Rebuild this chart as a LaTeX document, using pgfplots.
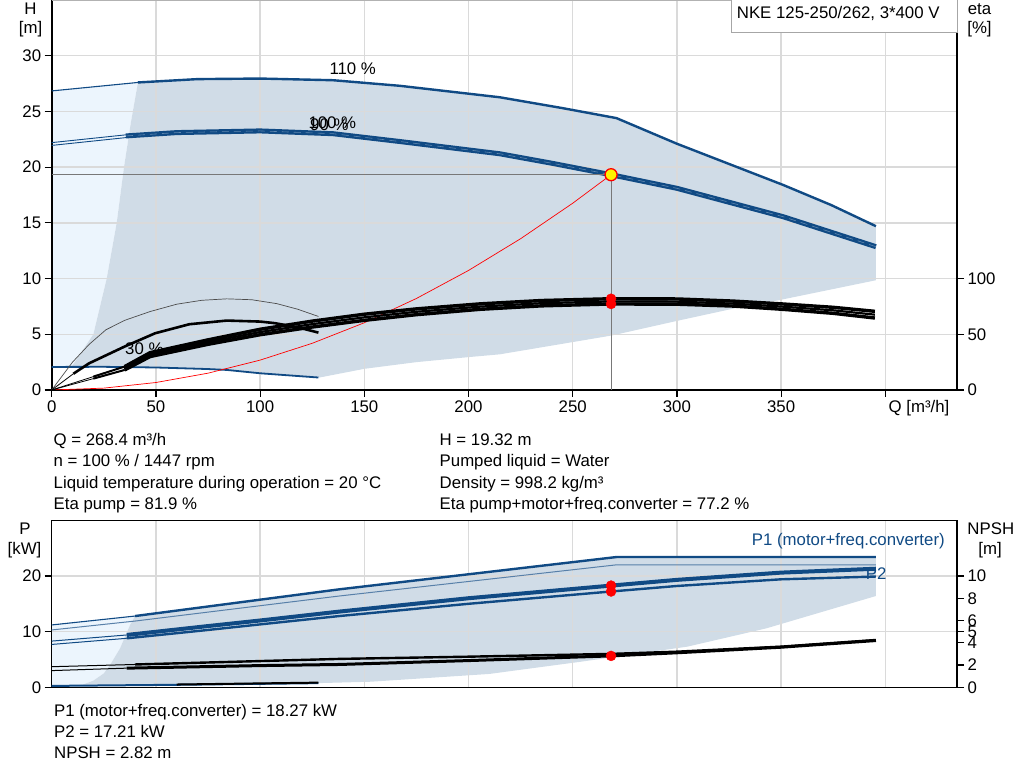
\documentclass[border=0pt]{standalone}
\usepackage{fontspec}
\setmainfont{Liberation Sans}
\usepackage{pgfplots}
\pgfplotsset{compat=1.18}
\definecolor{gblue}{RGB}{16,74,132}
\definecolor{midblue}{RGB}{95,135,175}
\definecolor{shade}{RGB}{208,220,231}
\definecolor{lightb}{RGB}{236,245,253}
\definecolor{gridc}{RGB}{218,218,218}
\definecolor{opgray}{RGB}{120,120,120}
\newcommand{\fs}{\fontsize{16.8}{19}\selectfont}
\pgfplotsset{
  common/.style={scale only axis, width=905.3pt, xmin=0, xmax=434.4,
    tick label style={font=\fs}, /pgf/number format/assume math mode=true,
    tick align=outside, major tick length=7pt, tick style={black, line width=1.2pt},
    axis line style={black, line width=1.6pt}},
  bl/.style={gblue, line width=#1, line join=round},
  bk/.style={black, line width=#1, line join=round},
}
\begin{document}
\begin{tikzpicture}
\useasboundingbox (0pt,0pt) rectangle (1024pt,781pt);
% ================= TOP: fills =================
\begin{axis}[common, at={(51.7pt,391pt)}, anchor=south west, height=390pt,
  ymin=0, ymax=35, hide axis]
\addplot[fill=lightb, draw=none] coordinates {(0,2.07) (0,26.84) (41.4,27.6) (38,24) (34.7,20) (31.2,15) (26.4,10) (20,5) (15,3.6) (9.5,2.08)} -- cycle;
\addplot[fill=shade, draw=none] coordinates {(41.4,27.6) (70,27.9) (100,27.95) (135,27.8) (167,27.3) (215,26.27) (245,25.3) (271,24.4) (300,22.1) (351,18.4) (374,16.6) (395.5,14.7)
 (395.5,9.85) (350,8.1) (327,7.3) (300,6.2) (269,4.9) (250,4.3) (215,3.2) (200,2.95) (175,2.5) (150,1.9) (128,1.1)
 (100,1.5) (84,1.8) (75,1.88) (50,2.02) (25,2.08) (9.5,2.08) (15,3.6) (20,5) (26.4,10) (31.2,15) (34.7,20) (38,24)} -- cycle;
\end{axis}
% ================= TOP: H axis =================
\begin{axis}[common, at={(51.7pt,391pt)}, anchor=south west, height=390pt,
  ymin=0, ymax=35, axis x line*=bottom, axis y line*=left,
  xtick={0,50,...,400}, xticklabels={0,50,100,150,200,250,300,350,{}},
  ytick={0,5,...,30},
  grid=major, grid style={gridc, line width=1.4pt}]
\draw[gray!60, line width=1.2pt] (rel axis cs:0,1) -- (rel axis cs:1,1);
% min speed curve
\addplot[bl=1.8pt] coordinates {(0,2.07) (25,2.08) (50,2.02) (75,1.88) (84,1.8) (100,1.5) (128,1.12)};
% 110 %
\addplot[bl=1.1pt] coordinates {(0,26.84) (41.4,27.6)};
\addplot[bl=2.4pt] coordinates {(41.4,27.6) (70,27.9) (100,27.95) (135,27.8) (167,27.3) (215,26.27) (245,25.3) (271,24.4) (300,22.1) (351,18.4) (374,16.6) (395.5,14.7)};
% 100 % / 90 %
\addplot[bl=0.9pt] coordinates {(0,22.2) (35.6,22.9)};
\addplot[bl=0.9pt] coordinates {(0,21.95) (35.6,22.65)};
\addplot[bl=5pt] coordinates {(35.6,22.8) (60,23.1) (100,23.25) (135,23.0) (167,22.3) (215,21.2) (240,20.35) (268.4,19.32) (300,18.1) (351,15.55) (395.5,12.86)};
\addplot[midblue, line width=0.6pt, dash pattern=on 7pt off 5pt] coordinates {(35.6,22.8) (60,23.1) (100,23.25) (135,23.0) (167,22.3) (215,21.2) (240,20.35) (268.4,19.32) (300,18.1) (351,15.55) (395.5,12.86)};
% system curve
\addplot[red, line width=0.7pt] coordinates {(0,0) (25,0.168) (50,0.671) (75,1.509) (100,2.682) (125,4.190) (150,6.034) (175,8.213) (200,10.728) (225,13.577) (250,16.762) (268.4,19.32)};
% operating point lines
\addplot[opgray, line width=1pt] coordinates {(0,19.32) (268.4,19.32)};
\addplot[opgray, line width=1pt] coordinates {(268.4,19.32) (268.4,0)};
\addplot[only marks, mark=*, mark size=6pt, mark options={fill=yellow, draw=red, line width=1.3pt}] coordinates {(268.4,19.32)};
\end{axis}
% ================= TOP: eta axis =================
\begin{axis}[common, at={(51.7pt,391pt)}, anchor=south west, height=390pt,
  ymin=0, ymax=350, axis y line*=right, axis x line=none, xtick=\empty,
  ytick={0,50,100}]
\addplot[bk=0.7pt, black!70] coordinates {(0,0) (10,25) (18,41) (26,54) (35,62.5) (47.2,70.4) (60,77) (72,80.5) (84,81.8) (96,81) (108,77.5) (118,72.5) (128,66)};
\addplot[bk=0.8pt] coordinates {(0,0) (10.4,14.6)};
\addplot[bk=2.6pt] coordinates {(10.4,14.6) (18,24) (26.4,31.4) (35,39) (49.6,50.9) (66,59) (84,62.3) (100,61.4) (107,60) (118,56.3) (128,51.5)};
\addplot[bk=0.8pt] coordinates {(0,0) (20,12) (35,21)};
\addplot[bk=0.8pt] coordinates {(0,0) (20,10.2) (35,18)};
\addplot[bk=2pt] coordinates {(20,12) (35,21)};
\addplot[bk=2pt] coordinates {(20,10.2) (35,18)};
\addplot[bk=3.4pt] coordinates {(35,21) (47.2,33.5) (75,45) (100,54.5) (125,61.8) (150,68) (175,72.8) (205.5,77.3) (235,80.3) (268.4,81.9) (300,81.7) (327,79.8) (350,77.3) (375,74.2) (395,70.6)};
\addplot[bk=3.4pt] coordinates {(35,18) (47.2,30) (75,41) (100,49.6) (125,56.5) (150,62.5) (175,67.6) (205.5,72.4) (235,75.5) (268.4,77.2) (300,77.0) (327,75.3) (350,72.5) (375,68.8) (395,64.6)};
\addplot[bk=2.2pt] coordinates {(35,19.5) (47.2,31.7) (75,43) (100,52) (125,59.1) (150,65.2) (175,70.2) (205.5,74.8) (235,77.9) (268.4,79.5) (300,79.3) (327,77.5) (350,74.9) (375,71.5) (395,67.6)};
\addplot[only marks, mark=*, mark size=5pt, red] coordinates {(268.4,81.9) (268.4,77.2)};
\end{axis}
% ================= BOTTOM: fills =================
\begin{axis}[common, at={(51.7pt,93.7pt)}, anchor=south west, height=167pt,
  ymin=0, ymax=30, hide axis]
\addplot[fill=lightb, draw=none] coordinates {(0,0.2) (0,11.2) (40,12.8) (37.6,11.2) (32.8,7) (28,4) (25,2.5) (20,1.2) (15,0.5) (10,0.25)} -- cycle;
\addplot[fill=shade, draw=none] coordinates {(40,12.8) (138,17.6) (271,23.4) (395.5,23.4) (395.5,16.4) (343,10.6) (305,7.3) (254,4.6) (210,2.4) (153,1.0) (128,0.75) (60,0.45) (10,0.25) (15,0.5) (20,1.2) (25,2.5) (28,4) (32.8,7) (37.6,11.2)} -- cycle;
\end{axis}
% ================= BOTTOM: P axis =================
\begin{axis}[common, at={(51.7pt,93.7pt)}, anchor=south west, height=167pt,
  ymin=0, ymax=30, ytick={0,10,20}, ytick pos=left,
  xtick={0,50,...,400}, xticklabels={}, x tick style={draw=none},
  grid=major, grid style={gridc, line width=1.4pt},
  axis line style={black, line width=1.4pt}]
\addplot[bl=1.1pt] coordinates {(0,11.2) (40,12.8)};
\addplot[bl=2.4pt] coordinates {(40,12.8) (138,17.6) (271,23.4) (395.5,23.4)};
\addplot[gblue!70, line width=1pt] coordinates {(0,10.3) (40,11.9) (138,16.4) (271,22.0) (395.5,22.0)};
\addplot[bl=1pt] coordinates {(0,8.3) (36,9.4)};
\addplot[bl=1pt] coordinates {(0,7.7) (36,8.8)};
\addplot[bl=4pt] coordinates {(36,9.4) (75,11.0) (100,12.0) (138,13.6) (200,16.0) (268.4,18.27) (300,19.3) (350,20.6) (395.5,21.3)};
\addplot[bl=2.4pt] coordinates {(36,8.8) (75,10.3) (100,11.3) (138,12.8) (200,15.0) (268.4,17.21) (300,18.2) (350,19.4) (395.5,19.9)};
\addplot[bl=2pt] coordinates {(0,0.25) (60,0.45) (128,0.75)};
\addplot[only marks, mark=*, mark size=5pt, red] coordinates {(268.4,18.27) (268.4,17.21)};
\end{axis}
% ================= BOTTOM: NPSH axis =================
\begin{axis}[common, at={(51.7pt,93.7pt)}, anchor=south west, height=167pt,
  ymin=0, ymax=15, axis y line*=right, axis x line=none, xtick=\empty,
  ytick={0,2,4,5,6,8,10}]
\addplot[bk=1pt] coordinates {(0,1.85) (40,2.05)};
\addplot[bk=1pt] coordinates {(0,1.5) (36,1.72)};
\addplot[bk=2.4pt] coordinates {(40,2.05) (138,2.55) (200,2.75) (268.4,3.0) (300,3.2) (350,3.65) (395.5,4.25)};
\addplot[bk=3pt] coordinates {(36,1.72) (100,1.95) (138,2.05) (200,2.4) (268.4,2.82) (300,3.1) (350,3.6) (395.5,4.2)};
\addplot[bk=2pt] coordinates {(60,0.25) (128,0.42)};
\addplot[only marks, mark=*, mark size=5pt, red] coordinates {(268.4,2.82)};
\end{axis}
% ================= texts =================
\draw[fill=white, draw=gray!70, line width=1pt] (731pt,748.3pt) rectangle (957pt,782pt);
\node[anchor=base west, inner sep=0pt, font=\fs] at (736.7pt,762.7pt) {NKE 125-250/262, 3*400 V};
\node[anchor=base, inner sep=0pt, font=\fs] at (30.5pt,766pt) {H};
\node[anchor=base, inner sep=0pt, font=\fs] at (30.5pt,747.5pt) {[m]};
\node[anchor=base, inner sep=0pt, font=\fs] at (979.5pt,766pt) {eta};
\node[anchor=base, inner sep=0pt, font=\fs] at (979.5pt,747pt) {[\%]};
\node[anchor=base, inner sep=0pt, font=\fs] at (919pt,368.7pt) {Q [m³/h]};
\node[anchor=base west, inner sep=0pt, font=\fs] at (329.3pt,706pt) {110 \%};
\node[anchor=base west, inner sep=0pt, font=\fs] at (308.3pt,652.7pt) {100 \%};
\node[anchor=base west, inner sep=0pt, font=\fs] at (310pt,650.3pt) {90 \%};
\node[anchor=base west, inner sep=0pt, font=\fs] at (125pt,426pt) {30 \%};
\node[anchor=base west, inner sep=0pt, font=\fs] at (53.5pt,335.3pt) {Q = 268.4 m³/h};
\node[anchor=base west, inner sep=0pt, font=\fs] at (53.5pt,314.5pt) {n = 100 \% / 1447 rpm};
\node[anchor=base west, inner sep=0pt, font=\fs] at (53.5pt,292pt) {Liquid temperature during operation = 20 °C};
\node[anchor=base west, inner sep=0pt, font=\fs] at (53.5pt,271.3pt) {Eta pump = 81.9 \%};
\node[anchor=base west, inner sep=0pt, font=\fs] at (439.5pt,335.3pt) {H = 19.32 m};
\node[anchor=base west, inner sep=0pt, font=\fs] at (439.5pt,314.5pt) {Pumped liquid = Water};
\node[anchor=base west, inner sep=0pt, font=\fs] at (439.5pt,292pt) {Density = 998.2 kg/m³};
\node[anchor=base west, inner sep=0pt, font=\fs] at (439.5pt,271.3pt) {Eta pump+motor+freq.converter = 77.2 \%};
\node[anchor=base, inner sep=0pt, font=\fs] at (25pt,246pt) {P};
\node[anchor=base, inner sep=0pt, font=\fs] at (24.5pt,226pt) {[kW]};
\node[anchor=base, inner sep=0pt, font=\fs] at (990.8pt,246.7pt) {NPSH};
\node[anchor=base, inner sep=0pt, font=\fs] at (990pt,226.7pt) {[m]};
\node[anchor=base west, inner sep=0pt, font=\fs, text=gblue] at (751.7pt,235pt) {P1 (motor+freq.converter)};
\node[anchor=base west, inner sep=0pt, font=\fs, text=gblue] at (865.7pt,201pt) {P2};
\node[anchor=base west, inner sep=0pt, font=\fs] at (54pt,64.3pt) {P1 (motor+freq.converter) = 18.27 kW};
\node[anchor=base west, inner sep=0pt, font=\fs] at (54pt,43.3pt) {P2 = 17.21 kW};
\node[anchor=base west, inner sep=0pt, font=\fs] at (54pt,22.7pt) {NPSH = 2.82 m};
\end{tikzpicture}
\end{document}
